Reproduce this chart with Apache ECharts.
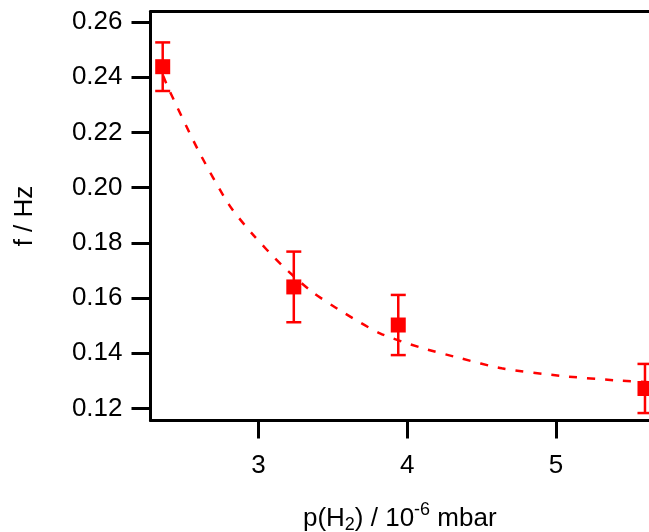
<!DOCTYPE html>
<html>
<head>
<meta charset="utf-8">
<script src="https://cdn.jsdelivr.net/npm/echarts@6/dist/echarts.min.js"></script>
<style>
html,body{margin:0;padding:0;background:#fff;}
#chart{width:649px;height:532px;}
</style>
</head>
<body>
<div id="chart"></div>
<script>
// Measured data points: pressure (10^-6 mbar), frequency (Hz), error (Hz)
const pressure = [2.357, 3.238, 3.940, 5.598];
const freq = [0.2438, 0.1640, 0.1502, 0.1272];
const freqErr = [0.0088, 0.0128, 0.0109, 0.0089];

// Fit curve
const fitX = [2.36, 2.394, 2.595, 2.80, 2.956, 3.157, 3.359, 3.582, 3.817, 4.086, 4.355, 4.635, 5.027, 5.441, 5.625];
const fitY = [0.2405, 0.2361, 0.2136, 0.194, 0.1834, 0.1719, 0.1623, 0.1544, 0.1472, 0.1421, 0.1382, 0.1345, 0.1318, 0.1300, 0.1295];

// Tick labels
const xTicks = [3, 4, 5];
const yTicks = [0.12, 0.14, 0.16, 0.18, 0.20, 0.22, 0.24, 0.26];

const X_MIN = 2.275, X_MAX = 5.625;
const Y_MIN = 0.1156, Y_MAX = 0.2638;

const RED = '#ff0000';
const FONT = 'Liberation Sans';

const chart = echarts.init(document.getElementById('chart'), null, {renderer: 'canvas'});

const points = pressure.map((p, i) => [p, freq[i], freqErr[i]]);
const fitData = fitX.map((x, i) => [x, fitY[i]]);

const option = {
  animation: false,
  backgroundColor: '#fff',
  grid: {left: 150.5, top: 11.5, right: 0, bottom: 111.5, containLabel: false, outerBoundsMode: 'none'},
  xAxis: [{
    type: 'value', min: X_MIN, max: X_MAX, position: 'bottom',
    splitLine: {show: false},
    axisLine: {show: true, onZero: false, lineStyle: {color: '#000', width: 3}},
    axisTick: {show: true, length: 18, lineStyle: {color: '#000', width: 3}, customValues: xTicks},
    axisLabel: {show: true, color: '#000', fontFamily: FONT, fontSize: 26, margin: 32, customValues: xTicks,
      formatter: v => String(v)},
    name: '{n|p(H}{s|2}{n|) / 10}{p|-6}{n| mbar}',
    nameLocation: 'middle', nameGap: 81,
    nameTextStyle: {
      rich: {
        n: {fontFamily: FONT, fontSize: 26, color: '#000'},
        s: {fontFamily: FONT, fontSize: 18, color: '#000', padding: [14, 0, 0, 0]},
        p: {fontFamily: FONT, fontSize: 18, color: '#000', padding: [0, 0, 16, 0]}
      }
    }
  }, {
    type: 'value', min: X_MIN, max: X_MAX, position: 'top',
    splitLine: {show: false},
    axisLine: {show: true, onZero: false, lineStyle: {color: '#000', width: 3}},
    axisTick: {show: false}, axisLabel: {show: false}
  }],
  yAxis: {
    type: 'value', min: Y_MIN, max: Y_MAX, position: 'left',
    splitLine: {show: false},
    axisLine: {show: true, onZero: false, lineStyle: {color: '#000', width: 3}},
    axisTick: {show: true, length: 19, lineStyle: {color: '#000', width: 3}, customValues: yTicks},
    axisLabel: {show: true, color: '#000', fontFamily: FONT, fontSize: 26, margin: 28, customValues: yTicks,
      formatter: v => v.toFixed(2)},
    name: 'f / Hz', nameLocation: 'middle', nameGap: 113,
    nameTextStyle: {fontFamily: FONT, fontSize: 26, color: '#000'}
  },
  series: [{
    type: 'line', data: fitData, xAxisIndex: 0, smooth: 0.25, showSymbol: false, symbol: 'none',
    lineStyle: {color: RED, width: 2.5, type: [8, 10], opacity: 1}, z: 1
  }, {
    type: 'custom', xAxisIndex: 0, data: points, z: 2,
    renderItem: function (params, api) {
      const x = api.value(0), y = api.value(1), e = api.value(2);
      const top = api.coord([x, y + e]);
      const bot = api.coord([x, y - e]);
      const hw = 7.5;
      const st = {stroke: RED, lineWidth: 2.5};
      return {
        type: 'group',
        children: [
          {type: 'line', shape: {x1: top[0], y1: top[1], x2: bot[0], y2: bot[1]}, style: st},
          {type: 'line', shape: {x1: top[0] - hw, y1: top[1], x2: top[0] + hw, y2: top[1]}, style: st},
          {type: 'line', shape: {x1: bot[0] - hw, y1: bot[1], x2: bot[0] + hw, y2: bot[1]}, style: st}
        ]
      };
    }
  }, {
    type: 'scatter', xAxisIndex: 0, data: points.map(p => [p[0], p[1]]), symbol: 'rect', symbolSize: 15,
    itemStyle: {color: RED, opacity: 1}, z: 3, clip: false
  }]
};

chart.setOption(option);
</script>
</body>
</html>
